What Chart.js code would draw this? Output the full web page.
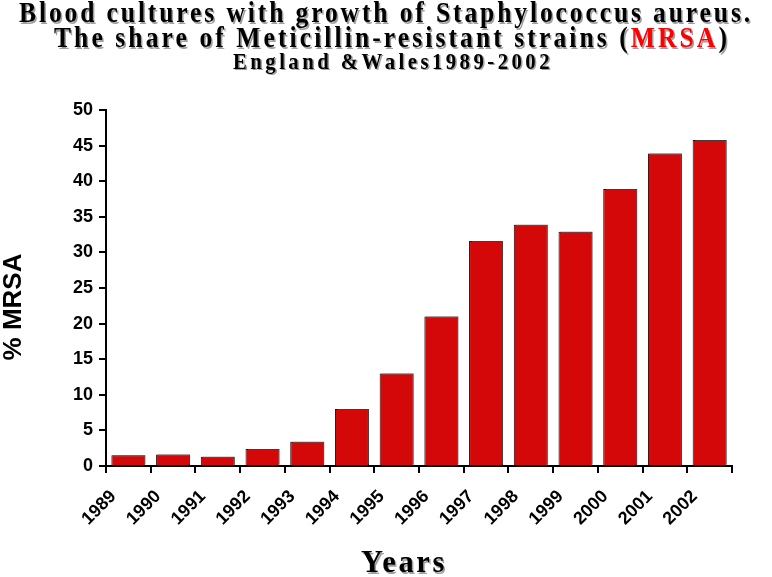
<!DOCTYPE html>
<html><head><meta charset="utf-8">
<script src="https://cdn.jsdelivr.net/npm/chart.js@4"></script>
<style>html,body{margin:0;padding:0;background:#fff}</style>
</head><body>
<canvas id="c" width="772" height="577"></canvas>
<script>
const categories = ['1989','1990','1991','1992','1993','1994','1995','1996','1997','1998','1999','2000','2001','2002'];
const mrsaShare = [1.5,1.6,1.3,2.4,3.4,8.0,13.0,21.0,31.6,33.9,32.9,38.9,43.9,45.8];
const yTickValues = [0,5,10,15,20,25,30,35,40,45,50];
const titleLine1 = 'Blood cultures with growth of Staphylococcus aureus.';
const titleLine2 = ['The share of Meticillin-resistant strains (', 'MRSA', ')'];
const titleLine3 = 'England &Wales1989-2002';
const yAxisTitle = '% MRSA';
const xAxisTitle = 'Years';

function drawSpaced(ctx, parts, colors, font, cx, cy, targetW, sx) {
  ctx.save();
  ctx.translate(cx, cy);
  ctx.scale(sx, 1);
  ctx.font = font;
  ctx.letterSpacing = '0px';
  const full = parts.join('');
  const n = full.length;
  const w0 = ctx.measureText(full).width;
  const tw = targetW / sx;
  const ls = (tw - w0) / n;
  ctx.letterSpacing = ls + 'px';
  let x = -(w0 + ls * n) / 2;
  ctx.textAlign = 'left';
  ctx.textBaseline = 'middle';
  parts.forEach((p, i) => {
    ctx.fillStyle = colors[i];
    ctx.fillText(p, x, 0);
    x += ctx.measureText(p).width;
  });
  ctx.letterSpacing = '0px';
  ctx.restore();
}

const textPlugin = {
  id: 'texts',
  afterDraw(chart) {
    const ctx = chart.ctx;
    ctx.save();
    ctx.shadowColor = 'rgba(120,120,120,0.7)';
    ctx.shadowOffsetX = 1.5;
    ctx.shadowOffsetY = 1.5;
    ctx.shadowBlur = 0;
    const serif = '"Liberation Serif", "Times New Roman", serif';
    drawSpaced(ctx, [titleLine1], ['#000'], 'bold 29px ' + serif, 386, 15, 734, 0.88);
    drawSpaced(ctx, titleLine2, ['#000', '#ff0000', '#000'], 'bold 29px ' + serif, 392, 40, 676, 0.88);
    drawSpaced(ctx, [titleLine3], ['#000'], 'bold 23px ' + serif, 393, 63, 320, 0.9);
    drawSpaced(ctx, [xAxisTitle], ['#000'], 'bold 32px ' + serif, 404, 564, 86, 0.95);
    ctx.shadowColor = 'transparent';
    ctx.translate(14, 307);
    ctx.rotate(-Math.PI / 2);
    ctx.font = 'bold 26px "Liberation Sans", Arial, sans-serif';
    ctx.fillStyle = '#000';
    ctx.textAlign = 'center';
    ctx.textBaseline = 'middle';
    ctx.fillText(yAxisTitle, 0, 0);
    ctx.restore();
  }
};

const barShadow = {
  id: 'barShadow',
  beforeDatasetsDraw(chart) {
    const ctx = chart.ctx;
    ctx.save();
    ctx.shadowColor = 'rgba(90,90,90,0.6)';
    ctx.shadowOffsetX = 1.5;
    ctx.shadowOffsetY = -1;
    ctx.shadowBlur = 0;
  },
  afterDatasetsDraw(chart) { chart.ctx.restore(); }
};

new Chart(document.getElementById('c'), {
  type: 'bar',
  data: {
    labels: categories,
    datasets: [{
      data: mrsaShare,
      backgroundColor: '#d40808',
      borderColor: '#3a0000',
      borderWidth: 1,
      barPercentage: 0.76,
      categoryPercentage: 1.0
    }]
  },
  options: {
    responsive: false,
    animation: false,
    devicePixelRatio: 1,
    layout: { padding: { top: 110, right: 40, left: 0, bottom: 0 } },
    plugins: { legend: { display: false }, tooltip: { enabled: false }, title: { display: false } },
    scales: {
      x: {
        grid: { display: true, drawOnChartArea: false, drawTicks: true, tickLength: 7, color: '#000', lineWidth: 2, offset: true },
        border: { display: true, color: '#000', width: 2 },
        ticks: {
          color: '#000',
          font: { family: '"Liberation Sans", Arial, sans-serif', size: 18, weight: 'bold' },
          minRotation: 45, maxRotation: 45,
          labelOffset: -15,
          padding: 13,
          autoSkip: false
        },
        afterFit(scale) { scale.height = 111; }
      },
      y: {
        min: 0, max: 50,
        afterBuildTicks(scale) { scale.ticks = yTickValues.map(v => ({ value: v })); },
        grid: { display: true, drawOnChartArea: false, drawTicks: true, tickLength: 7, color: '#000', lineWidth: 2 },
        border: { display: true, color: '#000', width: 2 },
        ticks: {
          color: '#000',
          font: { family: '"Liberation Sans", Arial, sans-serif', size: 18, weight: 'bold' },
          padding: 6
        },
        afterFit(scale) { scale.width = 106; }
      }
    }
  },
  plugins: [barShadow, textPlugin]
});
</script>
</body></html>
